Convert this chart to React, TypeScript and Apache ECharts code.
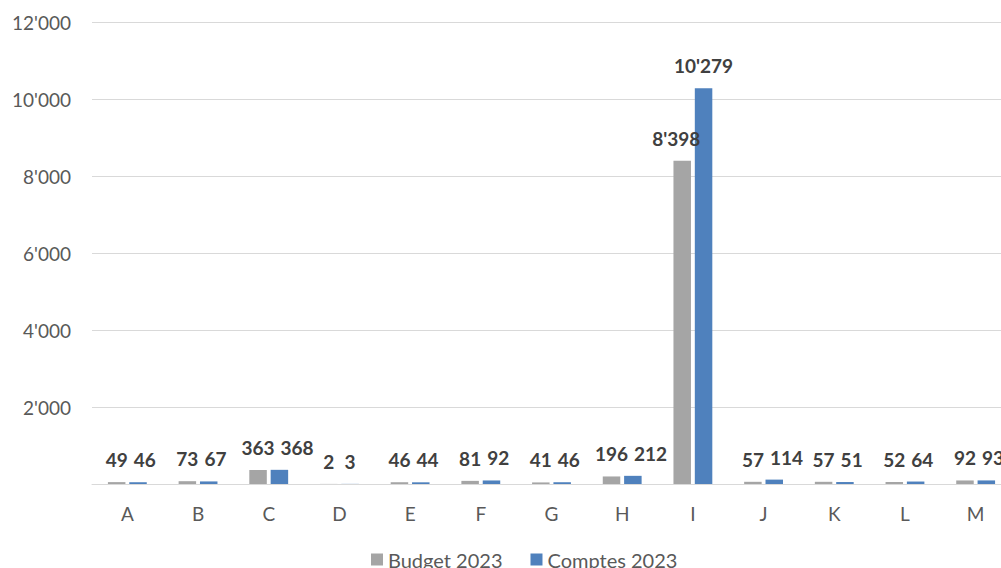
import React, { useEffect, useRef } from "react";
import * as echarts from "echarts";

const categories = ["A", "B", "C", "D", "E", "F", "G", "H", "I", "J", "K", "L", "M"];
const budget2023 = [49, 73, 363, 2, 46, 81, 41, 196, 8398, 57, 57, 52, 92];
const comptes2023 = [46, 67, 368, 3, 44, 92, 46, 212, 10279, 114, 51, 64, 93];
const seriesNames = ["Budget 2023", "Comptes 2023"];

const FONT = "Lato, 'Noto Sans', sans-serif";
const LABEL_SIZE = 19;
const BAR_WIDTH = 17.5;
const BAR_GAP = 0.22;
const LABEL_SPACING = 6;

// Swiss-style thousands separator: 10279 -> 10'279
const fmt = (v: number) => String(Math.round(v)).replace(/\B(?=(\d{3})+(?!\d))/g, "'");

let measureCtx: CanvasRenderingContext2D | null = null;
const labelWidth = (text: string) => {
  if (!measureCtx) measureCtx = document.createElement("canvas").getContext("2d");
  if (!measureCtx) return text.length * LABEL_SIZE * 0.58;
  measureCtx.font = `bold ${LABEL_SIZE}px ${FONT}`;
  return measureCtx.measureText(text).width;
};

export default function App() {
  const ref = useRef<HTMLDivElement>(null);

  useEffect(() => {
    document.body.style.margin = "0";
    if (!ref.current) return;
    const chart = echarts.init(ref.current, null, { renderer: "svg" });

    const pairOffset = BAR_WIDTH * (1 + BAR_GAP);

    const labelStyle = {
      show: true,
      position: "top" as const,
      distance: 13,
      fontFamily: FONT,
      fontSize: LABEL_SIZE,
      fontWeight: "bold" as const,
      color: "#404040",
      formatter: (p: any) => fmt(p.value),
    };

    // Keep the two labels of a category apart: the Comptes label is pushed
    // right when it would run into the Budget label, and a Budget label that
    // sits against the taller Comptes bar is nudged left.
    const layoutLabels = (params: any) => {
      const i = params.dataIndex;
      const r = params.rect;
      const lr = params.labelRect;
      if (params.seriesIndex === 1) {
        const grayCenter = r.x + r.width / 2 - pairOffset;
        const grayRight = grayCenter + labelWidth(fmt(budget2023[i])) / 2;
        const grayTop = chart.convertToPixel({ seriesIndex: 0 }, [i, budget2023[i]]);
        const grayLabelBottom = (grayTop ? grayTop[1] : lr.y + lr.height) - 13;
        const sameRow = Math.abs(grayLabelBottom - (lr.y + lr.height)) < lr.height;
        if (sameRow && lr.x < grayRight + LABEL_SPACING) {
          return { dx: grayRight + LABEL_SPACING - lr.x };
        }
        return {};
      }
      const bluePx = chart.convertToPixel({ seriesIndex: 1 }, [i, comptes2023[i]]);
      if (bluePx) {
        const blueLeft = r.x + r.width + BAR_GAP * BAR_WIDTH;
        const overlapsBar = lr.x + lr.width > blueLeft && bluePx[1] < lr.y + lr.height;
        if (overlapsBar) return { dx: -6 };
      }
      return {};
    };

    chart.setOption({
      animation: false,
      backgroundColor: "#ffffff",
      textStyle: { fontFamily: FONT },
      grid: { left: 92, top: 22, width: 919, height: 462, outerBoundsMode: "none", containLabel: false },
      legend: {
        data: seriesNames,
        left: 371,
        top: 548,
        padding: 0,
        itemWidth: 12,
        itemHeight: 12,
        itemGap: 28,
        icon: "rect",
        textStyle: { fontFamily: FONT, fontSize: 20, color: "#595959", lineHeight: 23 },
      },
      xAxis: {
        type: "category",
        data: categories,
        axisLine: { show: true, lineStyle: { color: "#d9d9d9", width: 1 } },
        axisTick: { show: false },
        axisLabel: { margin: 20, fontFamily: FONT, fontSize: 19, color: "#595959" },
      },
      yAxis: {
        type: "value",
        min: 0,
        max: 12000,
        interval: 2000,
        axisLine: { show: false },
        axisTick: { show: false },
        splitLine: { lineStyle: { color: "#d9d9d9", width: 1 } },
        axisLabel: {
          margin: 21,
          fontFamily: FONT,
          fontSize: 19,
          color: "#595959",
          formatter: (v: number) => (v === 0 ? "" : fmt(v)),
        },
      },
      series: [
        {
          name: seriesNames[0],
          type: "bar",
          data: budget2023,
          barWidth: BAR_WIDTH,
          barGap: `${BAR_GAP * 100}%`,
          itemStyle: { color: "#a5a5a5" },
          label: labelStyle,
          labelLayout: layoutLabels,
        },
        {
          name: seriesNames[1],
          type: "bar",
          data: comptes2023,
          barWidth: BAR_WIDTH,
          barGap: `${BAR_GAP * 100}%`,
          itemStyle: { color: "#4f81bd" },
          label: labelStyle,
          labelLayout: layoutLabels,
        },
      ],
    });

    return () => chart.dispose();
  }, []);

  return <div ref={ref} style={{ width: 1001, height: 568 }} />;
}
